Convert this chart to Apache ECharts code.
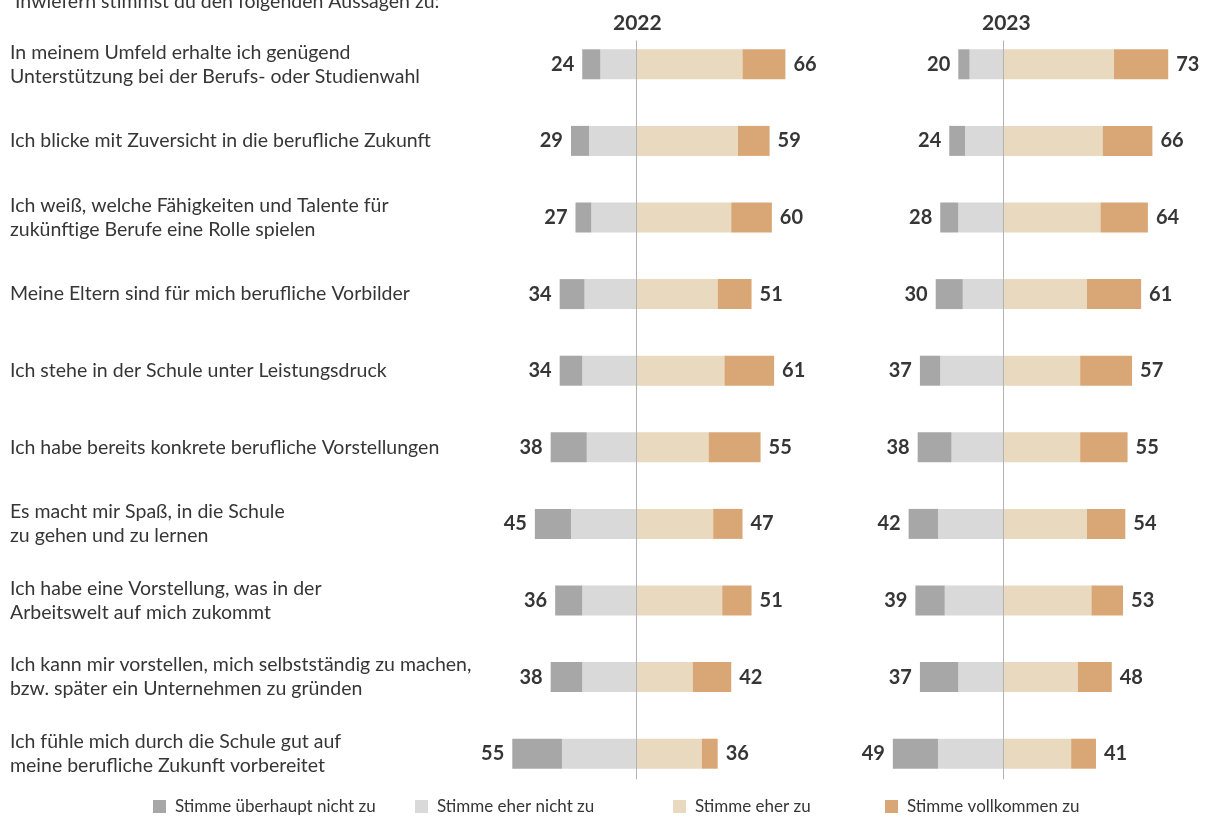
<!DOCTYPE html>
<html>
<head>
<meta charset="utf-8">
<script src="https://cdn.jsdelivr.net/npm/echarts@6/dist/echarts.min.js"></script>
<style>
  html, body { margin: 0; padding: 0; background: #ffffff; }
  #chart { width: 1212px; height: 819px; }
</style>
</head>
<body>
<div id="chart"></div>
<script>
// ---- Data ----
const categories = [
  "In meinem Umfeld erhalte ich genügend\nUnterstützung bei der Berufs- oder Studienwahl",
  "Ich blicke mit Zuversicht in die berufliche Zukunft",
  "Ich weiß, welche Fähigkeiten und Talente für\nzukünftige Berufe eine Rolle spielen",
  "Meine Eltern sind für mich berufliche Vorbilder",
  "Ich stehe in der Schule unter Leistungsdruck",
  "Ich habe bereits konkrete berufliche Vorstellungen",
  "Es macht mir Spaß, in die Schule\nzu gehen und zu lernen",
  "Ich habe eine Vorstellung, was in der\nArbeitswelt auf mich zukommt",
  "Ich kann mir vorstellen, mich selbstständig zu machen,\nbzw. später ein Unternehmen zu gründen",
  "Ich fühle mich durch die Schule gut auf\nmeine berufliche Zukunft vorbereitet"
];
const seriesNames = ["Stimme überhaupt nicht zu", "Stimme eher nicht zu", "Stimme eher zu", "Stimme vollkommen zu"];
const years = ["2022", "2023"];

const gar2022   = [8, 8, 7, 11, 10, 16, 16, 12, 14, 22];
const eherN2022 = [16, 21, 20, 23, 24, 22, 29, 24, 24, 33];
const eherZ2022 = [47, 45, 42, 36, 39, 32, 34, 38, 25, 29];
const voll2022  = [19, 14, 18, 15, 22, 23, 13, 13, 17, 7];

const gar2023   = [5, 7, 8, 12, 9, 15, 13, 13, 17, 20];
const eherN2023 = [15, 17, 20, 18, 28, 23, 29, 26, 20, 29];
const eherZ2023 = [49, 44, 43, 37, 34, 34, 37, 39, 33, 30];
const voll2023  = [24, 22, 21, 24, 23, 21, 17, 14, 15, 11];

const negTotal2022 = [24, 29, 27, 34, 34, 38, 45, 36, 38, 55];
const posTotal2022 = [66, 59, 60, 51, 61, 55, 47, 51, 42, 36];
const negTotal2023 = [20, 24, 28, 30, 37, 38, 42, 39, 37, 49];
const posTotal2023 = [73, 66, 64, 61, 57, 55, 54, 53, 48, 41];

// ---- Styling ----
const colors = ["#a7a7a7", "#d9d9d9", "#e8d9bf", "#d9a775"];
const FONT = "Lato, 'Noto Sans', sans-serif";
const TXT = "#363636";
const xMin = -60, xMax = 80;

const chart = echarts.init(document.getElementById('chart'), null, { renderer: 'canvas' });

function yearSeries(idx, gar, eherN, eherZ, voll, negT, posT) {
  const stack = 's' + idx;
  const base = { type: 'bar', stack: stack, xAxisIndex: idx, yAxisIndex: idx, barWidth: 30, z: 2 };
  return [
    Object.assign({}, base, { name: seriesNames[1], itemStyle: { color: colors[1] }, data: eherN.map(v => -v) }),
    Object.assign({}, base, {
      name: seriesNames[0], itemStyle: { color: colors[0] }, data: gar.map(v => -v),
      label: { show: true, position: 'left', distance: 8, fontFamily: FONT, fontWeight: 'bold', fontSize: 20, color: TXT,
        formatter: p => String(negT[p.dataIndex]) }
    }),
    Object.assign({}, base, { name: seriesNames[2], itemStyle: { color: colors[2] }, data: eherZ.slice() }),
    Object.assign({}, base, {
      name: seriesNames[3], itemStyle: { color: colors[3] }, data: voll.slice(),
      label: { show: true, position: 'right', distance: 8, fontFamily: FONT, fontWeight: 'bold', fontSize: 20, color: TXT,
        formatter: p => String(posT[p.dataIndex]) }
    })
  ];
}

const gridTop = 26, gridBottom = 27, gridWidth = 316;
const left2022 = 501, left2023 = 868;

const legendLefts = [148, 410, 668, 880];

const option = {
  backgroundColor: '#ffffff',
  animation: false,
  title: [
    { text: "Inwiefern stimmst du den folgenden Aussagen zu:", left: 10, top: -13,
      textStyle: { fontFamily: FONT, fontSize: 19.5, fontWeight: 'normal', color: TXT } },
    { text: years[0], left: 608, top: 8, textStyle: { fontFamily: FONT, fontSize: 21, fontWeight: 'bold', color: TXT } },
    { text: years[1], left: 977, top: 8, textStyle: { fontFamily: FONT, fontSize: 21, fontWeight: 'bold', color: TXT } }
  ],
  legend: seriesNames.map((n, i) => ({
    data: [n], left: legendLefts[i], top: 793, itemWidth: 13, itemHeight: 13, icon: 'rect',
    selectedMode: false,
    textStyle: { fontFamily: FONT, fontSize: 17, color: TXT, padding: [0, 0, 0, 4] }
  })),
  grid: [
    { left: left2022, width: gridWidth, top: gridTop, bottom: gridBottom },
    { left: left2023, width: gridWidth, top: gridTop, bottom: gridBottom },
    { left: left2022, width: gridWidth, top: 41, bottom: 40 },
    { left: left2023, width: gridWidth, top: 41, bottom: 40 }
  ],
  xAxis: [0, 1, 2, 3].map(i => ({ type: 'value', gridIndex: i, min: xMin, max: xMax, show: false })),
  yAxis: [
    { type: 'category', gridIndex: 0, data: categories, inverse: true,
      axisLine: { show: false }, axisTick: { show: false },
      axisLabel: { align: 'left', margin: left2022 - 10, fontFamily: FONT, fontSize: 19.5, lineHeight: 24, color: TXT } },
    { type: 'category', gridIndex: 1, data: categories, inverse: true,
      axisLine: { show: false }, axisTick: { show: false }, axisLabel: { show: false } },
    { type: 'value', gridIndex: 2, min: 0, max: 1, z: 10,
      axisLine: { show: true, onZero: true, lineStyle: { color: '#b3b3b3', width: 1 } },
      axisTick: { show: false }, axisLabel: { show: false }, splitLine: { show: false } },
    { type: 'value', gridIndex: 3, min: 0, max: 1, z: 10,
      axisLine: { show: true, onZero: true, lineStyle: { color: '#b3b3b3', width: 1 } },
      axisTick: { show: false }, axisLabel: { show: false }, splitLine: { show: false } }
  ],
  series: [].concat(
    yearSeries(0, gar2022, eherN2022, eherZ2022, voll2022, negTotal2022, posTotal2022),
    yearSeries(1, gar2023, eherN2023, eherZ2023, voll2023, negTotal2023, posTotal2023)
  )
};

chart.setOption(option);
</script>
</body>
</html>
